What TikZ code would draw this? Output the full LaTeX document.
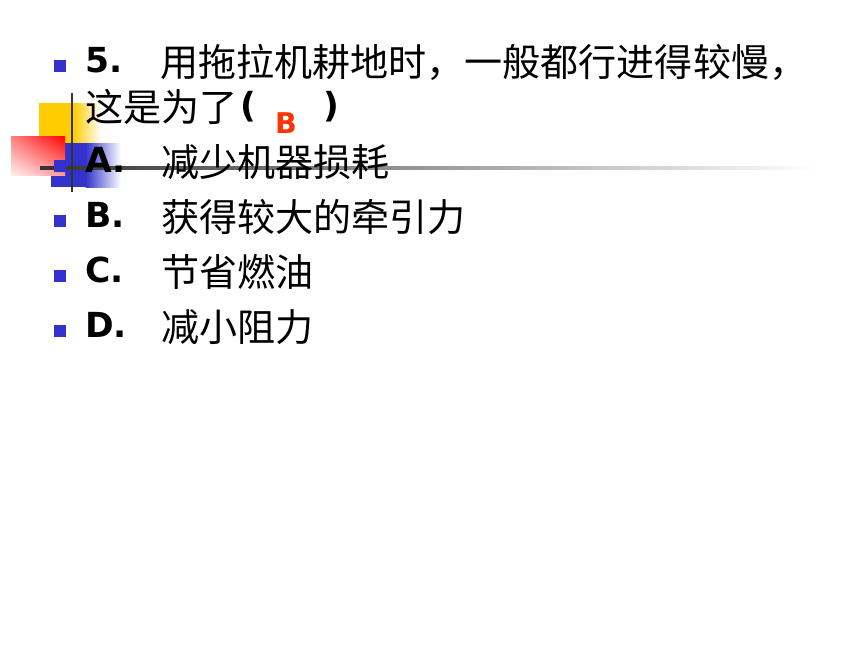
\documentclass[tikz,border=0pt]{standalone}
\usepackage{fontspec}
\setmainfont{DejaVu Sans}
\newfontfamily\cjk{Noto Sans CJK SC}
\usepackage{xcolor}
\definecolor{slideBlue}{HTML}{3333CC}
\definecolor{slideYellow}{HTML}{FFCC00}
\definecolor{slideRed}{HTML}{FF0000}
\definecolor{answerRed}{HTML}{FF3300}
\definecolor{ruleGray}{HTML}{333333}
\usetikzlibrary{positioning,shadings}

\begin{document}
\begin{tikzpicture}[x=0.029535cm, y=-0.029535cm,
  every node/.style={inner sep=0pt, outer sep=0pt, anchor=base west},
  item/.style={font=\fontsize{29}{34}\selectfont\bfseries},
  cn/.style={font=\fontsize{32}{38}\selectfont\cjk, yshift=-3.5pt},
  bulletbox/.style={fill=slideBlue, minimum size=10pt, anchor=south west}]
  % Page
  \fill[white] (0,0) rectangle (860,645);
  % Corner squares
  \fill[slideYellow] (39,103) rectangle (74,146);
  \shade[left color=slideYellow, right color=white] (73.5,103) rectangle (101,146);
  \fill[slideBlue] (51,143) rectangle (86,187);
  \shade[left color=slideBlue, right color=white] (85.5,143) rectangle (121,187);
  \shade[upper right=slideRed, upper left=slideRed!50!white,
         lower right=slideRed!40!white, lower left=slideRed!6!white] (11,136) rectangle (65,175);
  % Rules
  \shade[left color=ruleGray, right color=white] (40,166.5) rectangle (816,169.5);
  \draw[ruleGray, line width=2.2pt] (72,93) -- (72,192);
  % Question
  \node[bulletbox] (b5) at (54,72) {};
  \node[item] (num) at (85,72) {5.};
  \node[cn] (q1) at (160,72) {用拖拉机耕地时，一般都行进得较慢，};
  \node[cn] (q2) at (85,117) {这是为了};
  \node[item] (lp) at (240,117) {(};
  \node[item, font=\fontsize{24}{28}\selectfont\bfseries, text=answerRed] (ans) at (275,133) {B};
  \node[item] (rp) at (323,117) {)};
  % Options
  \foreach \k/\l/\t/\y in {a/A./减少机器损耗/172, b/B./获得较大的牵引力/227,
                           c/C./节省燃油/282, d/D./减小阻力/337} {
    \node[bulletbox] (b\k) at (54,\y) {};
    \node[item] (l\k) at (85,\y) {\l};
    \node[cn] (t\k) at (161,\y) {\t};
  }
\end{tikzpicture}
\end{document}
